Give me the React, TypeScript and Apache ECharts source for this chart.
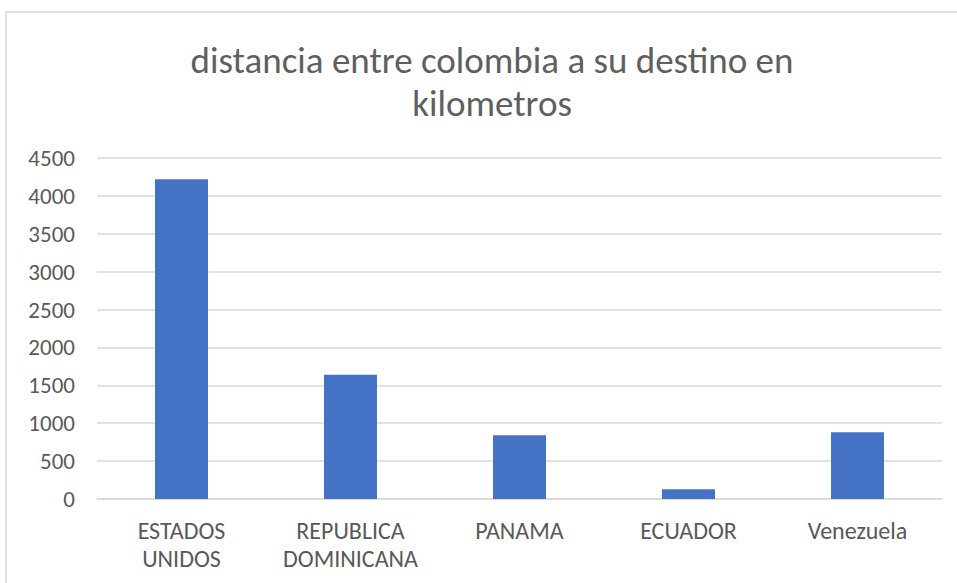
import React, { useEffect, useRef } from "react";
import * as echarts from "echarts";

const titleText = "distancia entre colombia a su destino en\nkilometros";
const categories = ["ESTADOS UNIDOS", "REPUBLICA DOMINICANA", "PANAMA", "ECUADOR", "Venezuela"];
const distances = [4220, 1640, 840, 130, 880];
const yMin = 0;
const yMax = 4500;
const yInterval = 500;

const FONT = 'Carlito, Lato, "Open Sans", sans-serif';

export default function App() {
  const ref = useRef<HTMLDivElement>(null);
  useEffect(() => {
    if (!ref.current) return;
    const chart = echarts.init(ref.current, null, { renderer: "svg" });
    chart.setOption({
      animation: false,
      backgroundColor: "#ffffff",
      graphic: [
        {
          type: "rect",
          shape: { x: 6, y: 12, width: 1000, height: 1000 },
          style: { fill: "none", stroke: "#d9d9d9", lineWidth: 1.5 },
          silent: true,
        },
      ],
      title: {
        text: titleText,
        left: 487,
        textAlign: "center",
        top: 34,
        textStyle: {
          fontFamily: FONT,
          fontSize: 37,
          fontWeight: "normal",
          color: "#5f5f5f",
          lineHeight: 43,
        },
      },
      grid: { left: 97, right: 15, top: 158, bottom: 84, containLabel: false },
      xAxis: {
        type: "category",
        data: categories,
        axisLine: { lineStyle: { color: "#d9d9d9", width: 1.5 } },
        axisTick: { show: false },
        axisLabel: {
          interval: 0,
          margin: 17,
          fontFamily: FONT,
          fontSize: 24,
          color: "#595959",
          lineHeight: 28,
          formatter: (v: string) => v.replace(" ", "\n"),
        },
      },
      yAxis: {
        type: "value",
        min: yMin,
        max: yMax,
        interval: yInterval,
        axisLine: { show: false },
        axisTick: { show: false },
        splitLine: { lineStyle: { color: "#d9d9d9", width: 1.5 } },
        axisLabel: {
          margin: 22,
          fontFamily: FONT,
          fontSize: 23,
          color: "#595959",
          formatter: (v: number) => String(v),
        },
      },
      series: [
        {
          type: "bar",
          data: distances,
          barWidth: 53,
          itemStyle: { color: "#4472C4" },
        },
      ],
    });
    return () => chart.dispose();
  }, []);
  return (
    <div
      ref={ref}
      style={{ position: "fixed", left: 0, top: 0, width: 957, height: 583 }}
    />
  );
}
